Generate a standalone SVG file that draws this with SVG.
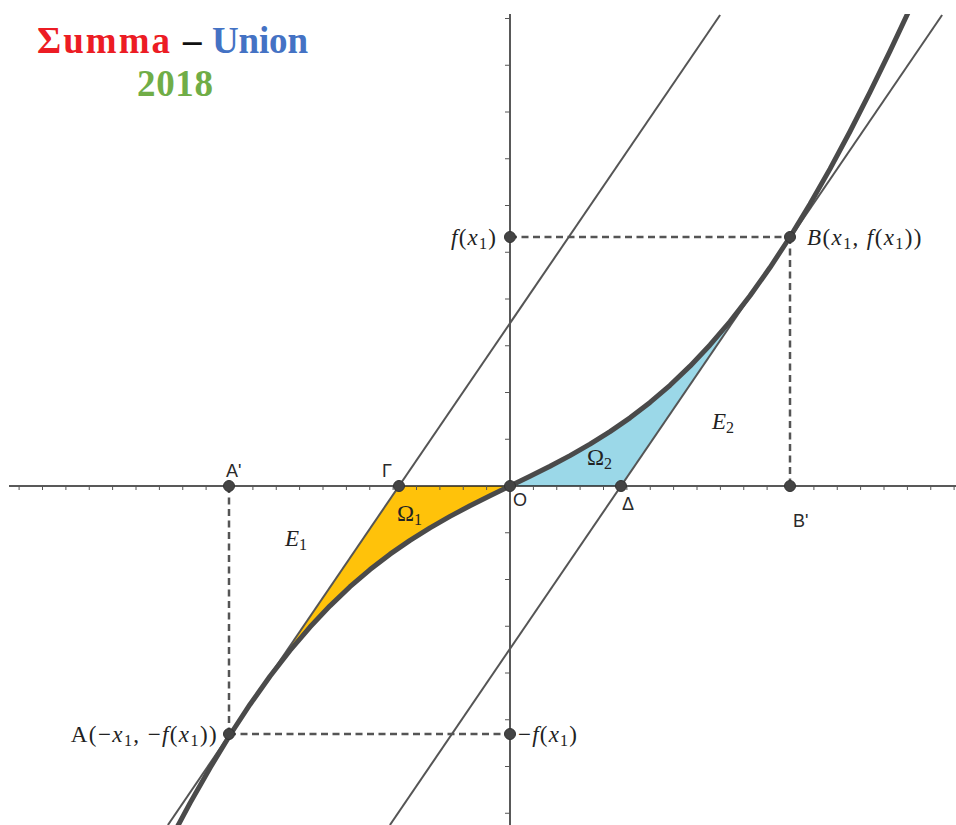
<svg xmlns="http://www.w3.org/2000/svg" width="956" height="825" viewBox="0 0 956 825">
<style>
.ax{stroke:#222;stroke-width:1.5;fill:none}
.tk{stroke:#555;stroke-width:1;fill:none}
.ln{stroke:#555;stroke-width:2;fill:none}
.cv{stroke:#4a4a4a;stroke-width:5;fill:none;stroke-linejoin:round;stroke-linecap:round}
.ds{stroke:#555;stroke-width:2.5;fill:none;stroke-dasharray:7 4.5}
.pt{fill:#444;stroke:#333;stroke-width:1}
.m{font-family:"Liberation Serif","DejaVu Serif",serif;font-size:23px;fill:#222}
.i{font-style:italic}
.s{font-size:16px}
.sn{font-family:"Liberation Sans",Arial,sans-serif;font-size:18px;fill:#2a2a2a}
.tt{font-family:"Liberation Serif","Times New Roman",serif;font-weight:bold;font-size:37px}
</style>
<defs>
<clipPath id="plot"><rect x="0" y="14" width="956" height="811"/></clipPath>
</defs>
<rect width="956" height="825" fill="#fff"/>

<g id="title">
<text class="tt" x="37" y="53" fill="#EC1C24" textLength="133" lengthAdjust="spacing">Σumma</text>
<text class="tt" x="183" y="53" fill="#111">–</text>
<text class="tt" x="212" y="53" fill="#4472C4" textLength="96" lengthAdjust="spacing">Union</text>
<text class="tt" x="137" y="96" fill="#70AD47" textLength="76" lengthAdjust="spacing">2018</text>
</g>

<g id="regions">
<polygon id="omega1-fill" fill="#FFC20A" points="399,486 510,486 490,495.76 470,505.8 450,516.4 430,527.82 410,540.33 390,554.17 370,569.56 350,586.72 330,605.83 310,627.05 290,650.5 270,676.28 250,704.5"/>
<polygon id="omega2-fill" fill="#9BD8E8" points="510,486 621,486 750,296.8 750,295.72 730,321.5 710,344.95 690,366.17 670,385.28 650,402.44 630,417.83 610,431.67 590,444.18 570,455.6 550,466.2 530,476.24"/>
</g>

<g id="axes">
<line class="ax" x1="9" y1="486" x2="956" y2="486"/>
<line class="ax" x1="510" y1="14" x2="510" y2="825"/>
<path class="tk" d="M19.1,486v4M42.5,486v4M65.9,486v4M89.25,486v4M112.6,486v4M136,486v4M159.4,486v4M182.75,486v4M206.1,486v4M229.5,486v4M252.9,486v4M276.25,486v4M299.6,486v4M323,486v4M346.4,486v4M369.75,486v4M393.1,486v4M416.5,486v4M439.9,486v4M463.25,486v4M486.6,486v4M533.4,486v4M556.75,486v4M580.1,486v4M603.5,486v4M626.9,486v4M650.25,486v4M673.6,486v4M697,486v4M720.4,486v4M743.75,486v4M767.1,486v4M790.5,486v4M813.9,486v4M837.25,486v4M860.6,486v4M884,486v4M907.4,486v4M930.75,486v4M954.1,486v4"/>
<path class="tk" d="M505,439.25h5M505,392.5h5M505,345.75h5M505,299h5M505,252.25h5M505,205.5h5M505,158.75h5M505,112h5M505,65.25h5M505,18.5h5M505,532.75h5M505,579.5h5M505,626.25h5M505,673h5M505,719.75h5M505,766.5h5M505,813.25h5"/>
</g>

<g id="connectors" clip-path="url(#plot)">
<line id="line-gamma-A" class="ln" x1="720.1" y1="15" x2="167.9" y2="825"/>
<line id="line-delta-B" class="ln" x1="942.1" y1="15" x2="389.9" y2="825"/>
<polyline id="curve-f" class="cv" points="170,840.5 190,803.13 210,767.92 230,735 250,704.44 270,676.28 290,650.5 310,627.05 330,605.83 350,586.72 370,569.56 390,554.17 410,540.33 430,527.82 450,516.4 470,505.8 490,495.76 510,486 530,476.24 550,466.2 570,455.6 590,444.18 610,431.67 630,417.83 650,402.44 670,385.28 690,366.17 710,344.95 730,321.5 750,295.72 770,267.56 790,237 810,204.08 830,168.87 850,131.5 870,92.16 890,51.08 910,8.58"/>
<line id="dash-fx1-B" class="ds" x1="510" y1="237" x2="790" y2="237"/>
<line id="dash-B-Bp" class="ds" x1="790" y1="237" x2="790" y2="486"/>
<line id="dash-Ap-A" class="ds" x1="229" y1="486" x2="229" y2="734"/>
<line id="dash-A-mfx1" class="ds" x1="229" y1="734" x2="510" y2="734"/>
</g>

<g id="label-E1"><text class="m i" x="285" y="546">E<tspan class="s" font-style="normal" dy="4">1</tspan></text></g>
<g id="label-E2"><text class="m i" x="712" y="429">E<tspan class="s" font-style="normal" dy="4">2</tspan></text></g>
<g id="label-Omega1"><text class="m" x="397" y="521">Ω<tspan class="s" dy="4">1</tspan></text></g>
<g id="label-Omega2"><text class="m" x="587" y="465">Ω<tspan class="s" dy="4">2</tspan></text></g>

<g id="node-fx1">
<circle class="pt" cx="510" cy="237" r="5.5"/>
<text class="m" x="497" y="245" text-anchor="end" letter-spacing="1.2"><tspan class="i">f</tspan>(<tspan class="i">x</tspan><tspan class="s" dy="4">1</tspan><tspan dy="-4">)</tspan></text>
</g>
<g id="node-B">
<circle class="pt" cx="790" cy="237" r="5.5"/>
<text class="m" x="807" y="245" letter-spacing="1.4"><tspan class="i">B</tspan>(<tspan class="i">x</tspan><tspan class="s" dy="4">1</tspan><tspan dy="-4">, </tspan><tspan class="i">f</tspan>(<tspan class="i">x</tspan><tspan class="s" dy="4">1</tspan><tspan dy="-4">))</tspan></text>
</g>
<g id="node-Bp">
<circle class="pt" cx="790" cy="486" r="5.5"/>
<text class="sn" x="793" y="527">B'</text>
</g>
<g id="node-Delta">
<circle class="pt" cx="621" cy="486" r="5.5"/>
<text class="sn" x="622" y="510">Δ</text>
</g>
<g id="node-O">
<circle class="pt" cx="510" cy="486" r="5.5"/>
<text class="sn" x="513" y="506">O</text>
</g>
<g id="node-Gamma">
<circle class="pt" cx="399" cy="486" r="5.5"/>
<text class="sn" x="382" y="477">Γ</text>
</g>
<g id="node-Ap">
<circle class="pt" cx="229" cy="486" r="5.5"/>
<text class="sn" x="226" y="477">A'</text>
</g>
<g id="node-A">
<circle class="pt" cx="229" cy="734" r="5.5"/>
<text class="m" x="218" y="742" text-anchor="end" letter-spacing="1.4">A(−<tspan class="i">x</tspan><tspan class="s" dy="4">1</tspan><tspan dy="-4">, −</tspan><tspan class="i">f</tspan>(<tspan class="i">x</tspan><tspan class="s" dy="4">1</tspan><tspan dy="-4">))</tspan></text>
</g>
<g id="node-mfx1">
<circle class="pt" cx="510" cy="734" r="5.5"/>
<text class="m" x="518" y="742" letter-spacing="1.2">−<tspan class="i">f</tspan>(<tspan class="i">x</tspan><tspan class="s" dy="4">1</tspan><tspan dy="-4">)</tspan></text>
</g>
</svg>
